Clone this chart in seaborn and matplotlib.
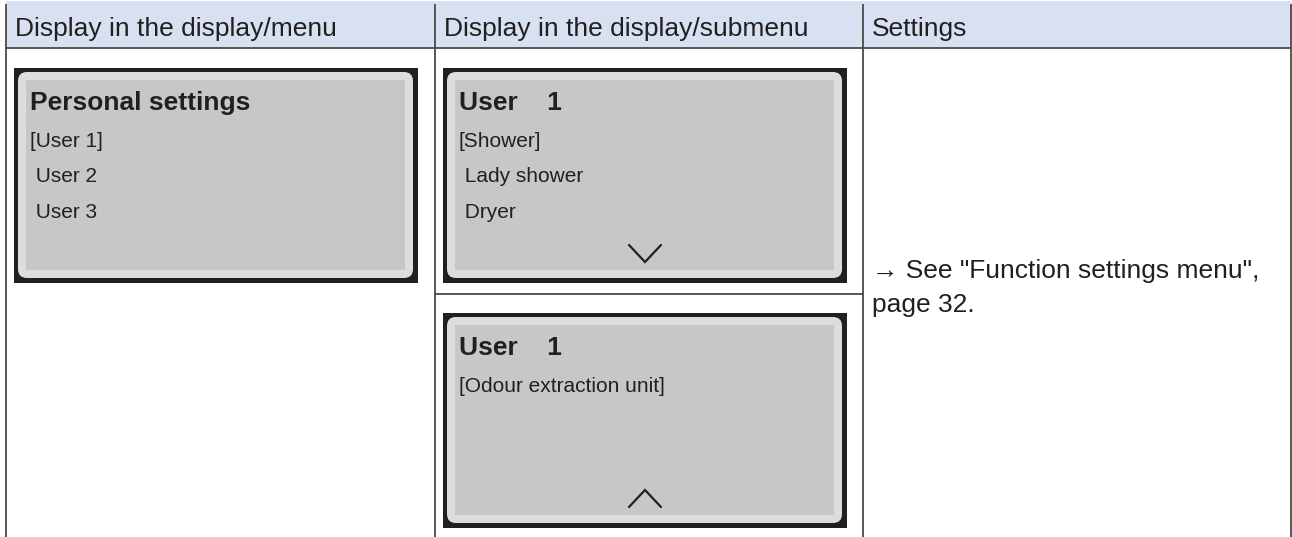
import matplotlib.pyplot as plt
import matplotlib.patches as mpatches
import seaborn as sns

# table content
headers = ["Display in the display/menu", "Display in the display/submenu", "Settings"]
col_edges = [6, 435, 863, 1291]

screen_titles = ["Personal settings", "User    1", "User    1"]
screen_items = [
    ["[User 1]", " User 2", " User 3"],
    ["[Shower]", " Lady shower", " Dryer"],
    ["[Odour extraction unit]"],
]
screen_arrows = [None, "down", "up"]
screen_x = [14, 443, 443]
screen_y = [68, 68, 313]

settings_lines = ['\u2192 See "Function settings menu",', "page 32."]

sns.set_theme(style="white")
plt.rcParams["font.family"] = ["Liberation Sans", "DejaVu Sans"]

INK = "#231f20"
LINE = "#4a4a4a"
HEAD_BG = "#d8e1f1"

fig = plt.figure(figsize=(12.92, 5.37), dpi=100)
ax = fig.add_axes([0, 0, 1, 1])
ax.set_xlim(0, 1292)
ax.set_ylim(537, 0)
ax.axis("off")

# header band
ax.add_patch(mpatches.Rectangle((col_edges[0], 1), col_edges[-1] - col_edges[0], 47,
                                facecolor=HEAD_BG, edgecolor="none", zorder=0))
for left, label in zip(col_edges[:-1], headers):
    ax.text(left + 9, 36, label, fontsize=19, color=INK, va="baseline", ha="left")

# grid lines
for x in col_edges:
    ax.plot([x, x], [4, 537], color=LINE, lw=1.3, solid_capstyle="butt", zorder=3)
ax.plot([col_edges[0], col_edges[-1]], [48, 48], color=LINE, lw=1.3, zorder=3)
ax.plot([col_edges[1], col_edges[2]], [294, 294], color=LINE, lw=1.3, zorder=3)

# display screens
W, H = 404, 215
for sx, sy, title, items, arrow in zip(screen_x, screen_y, screen_titles, screen_items, screen_arrows):
    ax.add_patch(mpatches.Rectangle((sx, sy), W, H, facecolor=INK, edgecolor="none", zorder=1))
    ax.add_patch(mpatches.FancyBboxPatch((sx + 4, sy + 4), W - 9, H - 9,
                                         boxstyle="round,pad=0,rounding_size=9",
                                         facecolor="#dcdddf", edgecolor="none", zorder=1.5))
    ax.add_patch(mpatches.Rectangle((sx + 12, sy + 12), W - 25, H - 25,
                                    facecolor="#c6c7c9", edgecolor="none", zorder=2))
    ax.text(sx + 16, sy + 42, title, fontsize=19, fontweight="bold", color=INK,
            va="baseline", ha="left", zorder=4)
    for i, item in enumerate(items):
        ax.text(sx + 16, sy + 79 + i * 35.5, item, fontsize=15, color=INK,
                va="baseline", ha="left", zorder=4)
    if arrow is not None:
        cx = sx + 202
        top, bot = sy + 177, sy + 194
        if arrow == "down":
            ys = [top, bot, top]
        else:
            ys = [bot, top, bot]
        ax.plot([cx - 16, cx, cx + 16], ys, color=INK, lw=1.6, zorder=4,
                solid_joinstyle="miter")

# settings column
for i, line in enumerate(settings_lines):
    ax.text(col_edges[2] + 9, 278 + i * 34, line, fontsize=19, color=INK,
            va="baseline", ha="left")

fig.savefig("out.png", dpi=100)
